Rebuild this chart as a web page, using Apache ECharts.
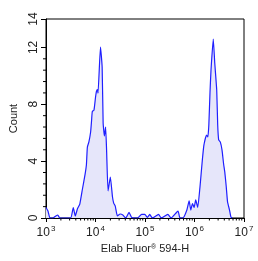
<!DOCTYPE html>
<html>
<head>
<meta charset="utf-8">
<script src="https://cdn.jsdelivr.net/npm/echarts@6/dist/echarts.min.js"></script>
<style>
  html, body { margin: 0; padding: 0; background: #fff; }
  #chart { width: 258px; height: 261px; }
</style>
</head>
<body>
<div id="chart"></div>
<script>
// histogram trace (fluorescence intensity, count)
var fluor = [
  1000, 1096, 1201, 1378, 1581, 1733, 1899, 3145, 3558, 3900,
  4334, 4816, 5449, 6166, 6545, 6853, 7340, 7970, 8344, 8617,
  9316, 10024, 10445, 10935, 11239, 12604, 13622, 14264, 15139, 15996,
  16748, 17936, 19934, 22046, 23291, 25061, 27721, 31513, 35668, 40916,
  47600, 53860, 70910, 85190, 99080, 112100, 124600, 141000, 188200, 213000,
  289500, 336900, 464200, 508800, 583900, 701300, 779000, 842000, 910400, 979500,
  1059000, 1161000, 1290000, 1440000, 1549000, 1753000, 1861000, 1948000, 2058000, 2154000,
  2394000, 2565000, 2811000, 2943000, 3081000, 3330000, 3599000, 3874000, 4092000, 4384000,
  4653000, 5099000, 5436000, 5770000
];
var counts = [
  0.74, 0.49, 0, 0, 0.14, 0.21, 0, 0, 0.74, 0.14,
  0.67, 0.98, 2.04, 3.09, 3.73, 4.99, 5.34, 6.05, 6.89, 7.49,
  7.59, 8.51, 8.9, 9.04, 8.79, 12.03, 10.62, 6.68, 5.77, 6.4,
  4.78, 1.9, 2.88, 1.48, 1.05, 0.84, 0.14, 0.28, 0.21, 0,
  0.39, 0.04, 0, 0.25, 0.25, 0.04, 0.25, 0, 0.25, 0,
  0.25, 0, 0.49, 0, 0, 0.56, 1.2, 0.56, 1.02, 0.74,
  1.27, 0.74, 2.18, 4.08, 5.13, 5.84, 5.7, 6.54, 8.86, 10.4,
  12.59, 10.9, 9.0, 6.54, 5.49, 5.34, 4.78, 3.8, 3.23, 2.18,
  1.13, 0.56, 0.07, 0
];

var xMinorTicks = [];
[1e3, 1e4, 1e5, 1e6].forEach(function (d) {
  [2, 3, 4, 5, 6, 7, 8, 9].forEach(function (m) { xMinorTicks.push(m * d); });
});
var yMinorTicks = [0.8, 1.6, 2.4, 3.2, 4.8, 5.6, 6.4, 7.2, 8.8, 9.6, 10.4, 11.2];

var supDigits = { 3: '3', 4: '4', 5: '5', 6: '6', 7: '7' };

var chart = echarts.init(document.getElementById('chart'));

var option = {
  backgroundColor: '#fff',
  animation: false,
  grid: {
    left: 43, right: 14, top: 19, bottom: 43,
    show: true, borderColor: '#000', borderWidth: 1, backgroundColor: 'transparent'
  },
  xAxis: {
    type: 'log',
    logBase: 10,
    min: 1000,
    max: 10000000,
    name: 'Elab Fluor{r|®} 594-H',
    nameLocation: 'middle',
    nameGap: 25,
    nameTextStyle: {
      color: '#222', fontSize: 11, fontFamily: 'Liberation Sans, Arial',
      rich: { r: { fontSize: 7, padding: [0, 0, 5, 0], color: '#222' } }
    },
    axisLine: { lineStyle: { color: '#000', width: 1 } },
    axisTick: { length: 4, lineStyle: { color: '#000' } },
    splitLine: { show: false },
    axisLabel: {
      margin: 7,
      color: '#222',
      fontSize: 12,
      fontFamily: 'Liberation Sans, Arial',
      formatter: function (v) {
        var e = Math.round(Math.log(v) / Math.LN10);
        return '10{s|' + supDigits[e] + '}';
      },
      rich: { s: { fontSize: 8, padding: [0, 0, 7, 1], color: '#222' } }
    }
  },
  yAxis: {
    type: 'value',
    min: 0,
    max: 14,
    interval: 4,
    name: 'Count',
    nameLocation: 'middle',
    nameGap: 27,
    nameTextStyle: { color: '#222', fontSize: 11, fontFamily: 'Liberation Sans, Arial' },
    axisLine: { show: true, lineStyle: { color: '#000', width: 1 } },
    axisTick: { show: true, length: 5, lineStyle: { color: '#000' } },
    splitLine: { show: false },
    axisLabel: {
      rotate: 90,
      margin: 6,
      color: '#222',
      fontSize: 12,
      fontFamily: 'Liberation Sans, Arial'
    }
  },
  series: [
    {
      type: 'line',
      data: fluor.map(function (x, i) { return [x, counts[i]]; }),
      showSymbol: false,
      smooth: 0.15,
      lineStyle: { color: '#1f1fff', width: 1.2 },
      areaStyle: { color: '#e6e6fa', opacity: 1 },
      z: 3
    },
    {
      type: 'custom',
      clip: false,
      silent: true,
      data: xMinorTicks.map(function (v) { return [v, 0]; }),
      renderItem: function (params, api) {
        var p = api.coord([api.value(0), 0]);
        return {
          type: 'line',
          shape: { x1: p[0], y1: p[1], x2: p[0], y2: p[1] + 2.5 },
          style: { stroke: '#000', lineWidth: 1 }
        };
      }
    },
    {
      type: 'custom',
      clip: false,
      silent: true,
      data: yMinorTicks.map(function (v) { return [1000, v]; }),
      renderItem: function (params, api) {
        var p = api.coord([1000, api.value(1)]);
        return {
          type: 'line',
          shape: { x1: p[0], y1: p[1], x2: p[0] - 3, y2: p[1] },
          style: { stroke: '#000', lineWidth: 1 }
        };
      }
    }
  ]
};

chart.setOption(option);
</script>
</body>
</html>
